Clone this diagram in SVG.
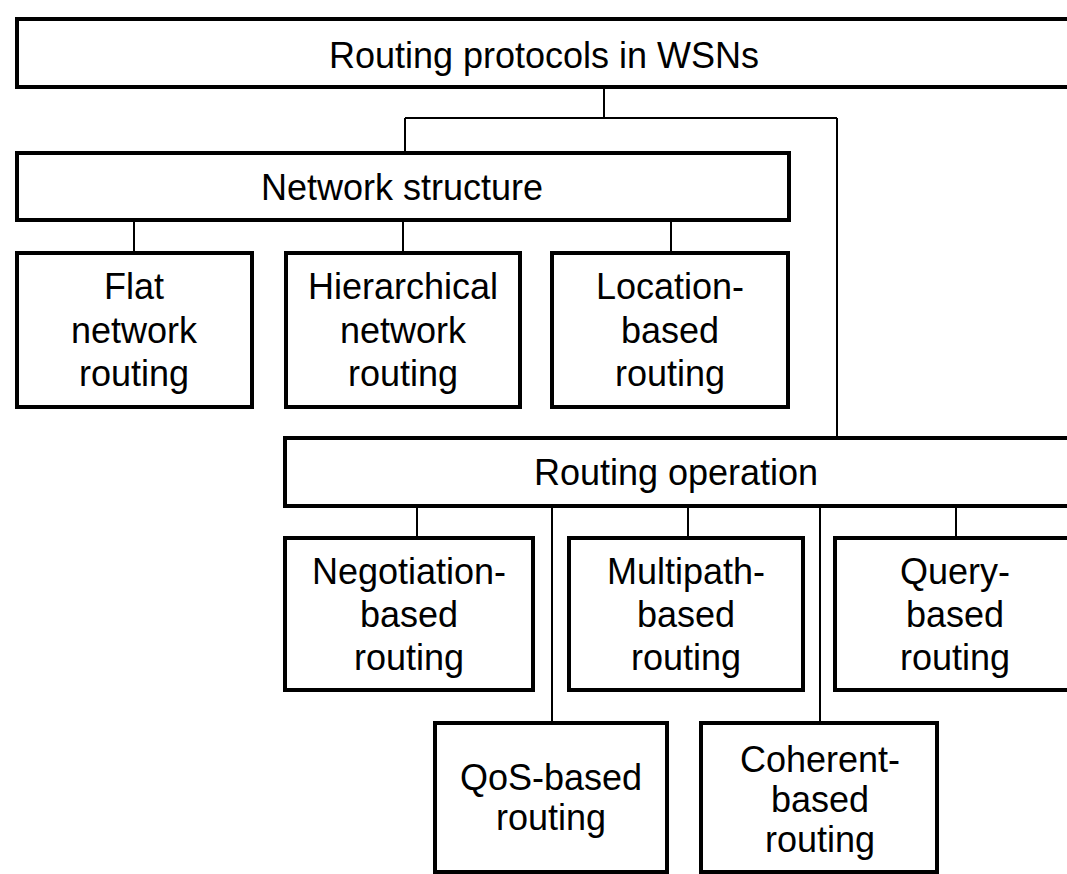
<svg xmlns="http://www.w3.org/2000/svg" width="1067" height="874" viewBox="0 0 1067 874">
<style>
.box{fill:#fff;stroke:#000;stroke-width:4}
.con{fill:none;stroke:#000;stroke-width:2}
text{font-family:"Liberation Sans",Arial,sans-serif;font-size:36px;fill:#000;text-anchor:middle}
</style>
<rect width="1067" height="874" fill="#fff"/>
<g id="connectors">
<path class="con" d="M604 87V118M405 118H837M405 118V153M837 118V438"/>
<path class="con" d="M134 220V253M403 220V253M671 220V253"/>
<path class="con" d="M417 506V538M688 506V538M956 506V538M552 506V723M820 506V723"/>
</g>
<g id="root"><rect class="box" x="17" y="19" width="1060" height="68"/><text x="544" y="68">Routing protocols in WSNs</text></g>
<g id="network-structure"><rect class="box" x="17" y="153" width="772" height="67"/><text x="402" y="200">Network structure</text></g>
<g id="flat"><rect class="box" x="17" y="253" width="235" height="154"/><text x="134" y="299">Flat</text><text x="134" y="343">network</text><text x="134" y="386">routing</text></g>
<g id="hierarchical"><rect class="box" x="286" y="253" width="234" height="154"/><text x="403" y="299">Hierarchical</text><text x="403" y="343">network</text><text x="403" y="386">routing</text></g>
<g id="location"><rect class="box" x="552" y="253" width="236" height="154"/><text x="670" y="299">Location-</text><text x="670" y="343">based</text><text x="670" y="386">routing</text></g>
<g id="routing-operation"><rect class="box" x="285" y="438" width="792" height="68"/><text x="676" y="485">Routing operation</text></g>
<g id="negotiation"><rect class="box" x="285" y="538" width="248" height="152"/><text x="409" y="584">Negotiation-</text><text x="409" y="627">based</text><text x="409" y="670">routing</text></g>
<g id="multipath"><rect class="box" x="569" y="538" width="234" height="152"/><text x="686" y="584">Multipath-</text><text x="686" y="627">based</text><text x="686" y="670">routing</text></g>
<g id="query"><rect class="box" x="835" y="538" width="242" height="152"/><text x="955" y="584">Query-</text><text x="955" y="627">based</text><text x="955" y="670">routing</text></g>
<g id="qos"><rect class="box" x="435" y="723" width="232" height="149"/><text x="551" y="790">QoS-based</text><text x="551" y="830">routing</text></g>
<g id="coherent"><rect class="box" x="701" y="723" width="236" height="149"/><text x="820" y="772">Coherent-</text><text x="820" y="812">based</text><text x="820" y="852">routing</text></g>
</svg>
